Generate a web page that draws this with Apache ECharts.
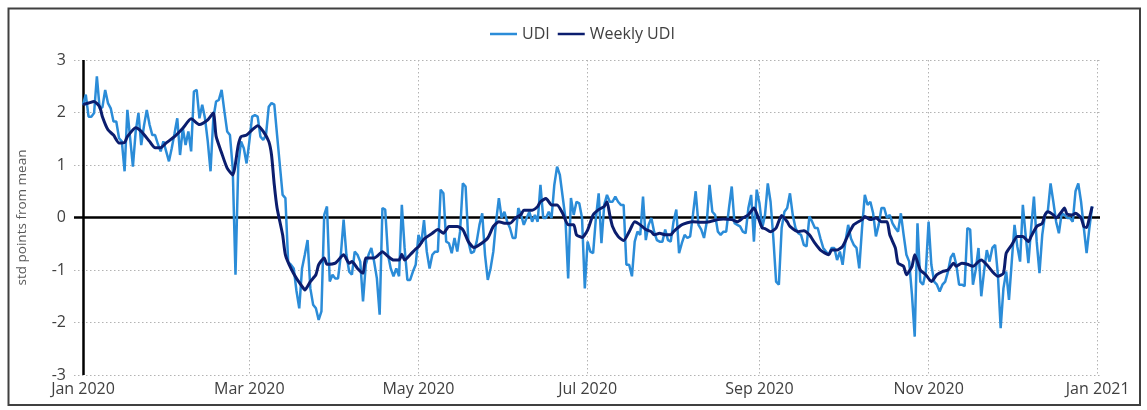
<!DOCTYPE html>
<html>
<head>
<meta charset="utf-8">
<script src="https://cdn.jsdelivr.net/npm/echarts@6/dist/echarts.min.js"></script>
<style>
html,body{margin:0;padding:0;background:#fff;}
#chart{width:1147px;height:410px;}
</style>
</head>
<body>
<div id="chart"></div>
<script>
// ---- data ----
const udiStartDate = [2020, 0, 1]; // daily series starts 1 Jan 2020
const udiValues = [
  2.15, 2.34, 1.92, 1.92, 1.99, 2.69, 2.08, 2.10, 2.43, 2.18,
  2.08, 1.83, 1.83, 1.51, 1.45, 0.88, 2.05, 1.51, 0.97, 1.64,
  1.99, 1.38, 1.75, 2.05, 1.77, 1.57, 1.57, 1.40, 1.26, 1.45,
  1.26, 1.07, 1.32, 1.60, 1.89, 1.19, 1.70, 1.38, 1.64, 1.26,
  2.40, 2.43, 1.89, 2.15, 1.89, 1.45, 0.88, 1.89, 2.21, 2.24,
  2.43, 2.02, 1.64, 1.57, 0.94, -1.09, 1.00, 1.45, 1.32, 1.03,
  1.45, 1.92, 1.95, 1.92, 1.54, 1.48, 1.57, 2.11, 2.18, 2.15,
  1.57, 1.00, 0.43, 0.37, -0.85, -0.90, -0.97, -1.40, -1.73, -0.97,
  -0.71, -0.43, -1.35, -1.66, -1.73, -1.95, -1.79, 0.05, 0.21, -1.22,
  -1.09, -1.16, -1.16, -0.71, -0.04, -0.71, -1.03, -1.09, -0.65, -0.71,
  -0.84, -1.60, -0.90, -0.71, -0.58, -0.84, -1.16, -1.85, 0.18, 0.15,
  -0.71, -0.97, -1.12, -0.97, -1.12, 0.24, -0.58, -1.19, -1.19, -1.03,
  -0.90, -0.33, -0.50, -0.05, -0.65, -0.97, -0.71, -0.65, -0.65, 0.53,
  0.46, -0.46, -0.49, -0.68, -0.39, -0.65, -0.27, 0.65, 0.59, -0.46,
  -0.68, -0.65, -0.46, -0.14, 0.08, -0.71, -1.19, -0.97, -0.65, -0.08,
  0.37, -0.01, 0.11, -0.08, -0.20, -0.39, -0.39, 0.18, 0.05, -0.14,
  -0.01, 0.11, -0.08, 0.05, -0.08, 0.62, -0.01, -0.01, 0.11, -0.01,
  0.62, 0.97, 0.81, 0.40, -0.01, -1.16, 0.37, 0.05, 0.30, 0.27,
  -0.01, -1.35, -0.46, -0.65, -0.68, -0.01, 0.46, -0.49, 0.24, 0.43,
  0.30, 0.30, 0.40, 0.30, 0.24, 0.24, -0.90, -0.90, -1.12, -0.46,
  -0.27, -0.33, 0.40, -0.43, -0.14, -0.01, -0.27, -0.43, -0.46, -0.46,
  -0.23, -0.43, -0.46, -0.08, 0.15, -0.68, -0.49, -0.33, -0.39, -0.36,
  0.05, 0.50, -0.14, -0.23, -0.39, -0.08, 0.62, 0.11, 0.05, -0.27,
  -0.33, -0.27, -0.27, 0.18, 0.59, -0.11, -0.14, -0.17, -0.27, -0.30,
  0.18, 0.43, -0.46, 0.53, 0.27, -0.20, 0.05, 0.65, 0.30, -0.39,
  -1.22, -1.28, -0.20, 0.11, 0.18, 0.46, 0.05, -0.20, -0.30, -0.33,
  -0.52, -0.55, 0.02, -0.08, -0.20, -0.20, -0.40, -0.58, -0.65, -0.71,
  -0.58, -0.58, -0.81, -0.65, -0.90, -0.46, -0.14, -0.40, -0.52, -0.58,
  -0.97, -0.20, 0.43, 0.24, 0.30, 0.08, -0.36, -0.14, 0.18, 0.18,
  -0.01, 0.05, -0.11, -0.20, -0.27, 0.08, -0.33, -0.71, -0.84, -1.47,
  -2.27, -0.11, -1.22, -1.28, -1.03, -0.08, -0.90, -1.22, -1.28, -1.41,
  -1.28, -1.22, -1.03, -0.76, -0.68, -0.90, -1.28, -1.28, -1.31, -0.20,
  -0.23, -1.28, -1.00, -0.58, -1.50, -1.03, -0.62, -0.84, -0.58, -0.52,
  -1.09, -2.11, -1.35, -1.03, -1.57, -0.84, -0.14, -0.55, -0.84, 0.24,
  -0.33, -0.87, -0.20, 0.40, -0.46, -1.06, -0.33, 0.05, 0.11, 0.65,
  0.30, -0.08, -0.30, 0.08, 0.05, -0.01, -0.01, -0.08, 0.50, 0.65,
  0.30, -0.20, -0.68, -0.20, 0.21
];
// weekly series: day offset from 1 Jan 2020 and value
const weeklyDays = [
  0, 2, 4, 6, 7, 9, 11, 13, 15, 16, 19, 21, 24, 26, 28, 30, 33, 36, 39, 42,
  45, 47, 48, 50, 52, 54, 56, 57, 59, 61, 63, 65, 67, 68, 69, 70, 72, 73, 75, 77,
  79, 80, 82, 84, 85, 87, 88, 91, 94, 96, 97, 99, 101, 102, 105, 106, 108, 110, 112, 114,
  115, 116, 118, 120, 121, 123, 126, 128, 130, 132, 135, 137, 139, 141, 143, 146, 148, 150, 152, 154,
  156, 158, 159, 162, 164, 165, 167, 169, 171, 173, 175, 177, 178, 180, 182, 184, 186, 188, 189, 190,
  191, 193, 195, 197, 199, 201, 203, 205, 206, 208, 210, 212, 213, 216, 218, 220, 223, 226, 229, 231,
  234, 236, 238, 240, 242, 243, 245, 246, 248, 250, 252, 254, 255, 258, 260, 262, 264, 266, 269, 270,
  272, 274, 276, 278, 281, 282, 284, 286, 288, 290, 291, 293, 294, 296, 297, 299, 300, 302, 304, 306,
  308, 310, 312, 314, 315, 317, 319, 321, 323, 324, 326, 328, 330, 332, 333, 335, 337, 339, 341, 342,
  344, 346, 347, 348, 350, 351, 353, 354, 355, 357, 358, 360, 361, 362, 363, 364
];
const weeklyValues = [
  2.15, 2.18, 2.21, 2.11, 1.92, 1.67, 1.57, 1.42, 1.43, 1.54, 1.71, 1.64, 1.45, 1.33, 1.33, 1.42, 1.54, 1.70, 1.88, 1.77,
  1.86, 1.99, 1.55, 1.23, 0.94, 0.81, 1.38, 1.54, 1.57, 1.67, 1.75, 1.64, 1.45, 1.19, 0.62, 0.18, -0.33, -0.71, -0.97, -1.16,
  -1.31, -1.38, -1.22, -1.09, -0.90, -0.77, -0.89, -0.87, -0.71, -0.87, -0.84, -0.97, -1.06, -0.77, -0.77, -0.74, -0.65, -0.74, -0.81, -0.81,
  -0.70, -0.81, -0.71, -0.60, -0.56, -0.41, -0.30, -0.23, -0.30, -0.17, -0.17, -0.23, -0.46, -0.57, -0.52, -0.39, -0.17, -0.08, -0.11, -0.11,
  -0.01, 0.06, 0.14, 0.14, 0.21, 0.30, 0.36, 0.24, 0.24, 0.08, -0.14, -0.14, -0.33, -0.38, -0.24, 0.05, 0.15, 0.21, 0.30, 0.05,
  -0.17, -0.36, -0.44, -0.27, -0.08, -0.14, -0.23, -0.27, -0.33, -0.30, -0.33, -0.33, -0.27, -0.14, -0.10, -0.08, -0.09, -0.08, -0.04, -0.03,
  -0.04, -0.08, -0.01, 0.05, 0.18, 0.08, -0.20, -0.21, -0.27, -0.20, 0.04, -0.08, -0.17, -0.27, -0.25, -0.33, -0.49, -0.62, -0.71, -0.62,
  -0.62, -0.55, -0.33, -0.14, -0.04, 0.02, -0.04, -0.01, -0.08, -0.08, -0.33, -0.58, -0.87, -0.93, -1.09, -0.93, -0.71, -1.00, -1.09, -1.22,
  -1.09, -1.03, -1.00, -0.87, -0.93, -0.87, -0.89, -0.93, -0.84, -0.81, -0.90, -1.03, -1.12, -1.06, -0.68, -0.52, -0.36, -0.36, -0.46, -0.36,
  -0.17, -0.11, 0.05, 0.11, 0.05, -0.01, 0.11, 0.18, 0.06, 0.05, 0.08, -0.01, -0.17, -0.19, -0.01, 0.21
];
const tickDates = [[2020, 0, 1], [2020, 2, 1], [2020, 4, 1], [2020, 6, 1], [2020, 8, 1], [2020, 10, 1], [2021, 0, 1]];
const tickLabels = ['Jan 2020', 'Mar 2020', 'May 2020', 'Jul 2020', 'Sep 2020', 'Nov 2020', 'Jan 2021'];
const yTicks = { min: -3, max: 3, step: 1 };
const seriesNames = ['UDI', 'Weekly UDI'];
const axisTitle = 'std points from mean';

// ---- build (x = days since the start date) ----
const DAY = 86400000;
const t0 = Date.UTC(udiStartDate[0], udiStartDate[1], udiStartDate[2]);
const tickDays = tickDates.map(d => Math.round((Date.UTC(d[0], d[1], d[2]) - t0) / DAY));
const udiData = udiValues.map((v, i) => [i, v]);
const weeklyData = weeklyDays.map((d, i) => [d, weeklyValues[i]]);

const FONT = 'Open Sans';
const UDI_COLOR = '#2b8cd8';
const WEEKLY_COLOR = '#0b1d6e';
const GRID_LINE = { color: '#b3b3b3', type: [1.5, 2.5], width: 1 };

const chart = echarts.init(document.getElementById('chart'), null, { renderer: 'canvas' });
chart.setOption({
  animation: false,
  backgroundColor: '#ffffff',
  textStyle: { fontFamily: FONT },
  graphic: [{
    type: 'rect',
    shape: { x: 8.5, y: 8.5, width: 1131.5, height: 396.5 },
    style: { fill: 'none', stroke: '#404040', lineWidth: 2 },
    silent: true, z: 100
  }],
  legend: {
    left: 485, top: 21,
    icon: 'rect',
    itemWidth: 27, itemHeight: 2.5, itemGap: 8,
    textStyle: { fontFamily: FONT, fontSize: 16, color: '#404040' },
    data: seriesNames
  },
  grid: { left: 74, right: 47, top: 60, bottom: 35, containLabel: false },
  xAxis: {
    type: 'value',
    min: -3.25,
    max: 366.83,
    axisLine: { show: false },
    axisTick: { show: false, customValues: tickDays },
    axisLabel: {
      customValues: tickDays,
      fontFamily: FONT, fontSize: 16, color: '#404040', margin: 6,
      formatter: function (val) {
        const i = tickDays.indexOf(Math.round(val));
        return i >= 0 ? tickLabels[i] : '';
      }
    },
    splitLine: { show: true, lineStyle: GRID_LINE }
  },
  yAxis: {
    type: 'value',
    min: yTicks.min, max: yTicks.max, interval: yTicks.step,
    name: axisTitle,
    nameLocation: 'middle',
    nameGap: 45,
    nameTextStyle: { fontFamily: FONT, fontSize: 13.5, color: '#595959' },
    axisLine: { show: false },
    axisTick: { show: false },
    axisLabel: { fontFamily: FONT, fontSize: 16, color: '#404040', margin: 8 },
    splitLine: { show: true, lineStyle: GRID_LINE }
  },
  series: [
    {
      name: seriesNames[0],
      type: 'line',
      data: udiData,
      symbol: 'none',
      showSymbol: false,
      lineStyle: { color: UDI_COLOR, width: 2.5 },
      itemStyle: { color: UDI_COLOR },
      z: 2,
      markLine: {
        silent: true,
        symbol: 'none',
        label: { show: false },
        z: 1,
        data: [
          { yAxis: 0, lineStyle: { color: '#000000', width: 2.5, type: 'solid' } },
          { xAxis: tickDays[0], lineStyle: { color: '#000000', width: 2.5, type: 'solid' } }
        ]
      }
    },
    {
      name: seriesNames[1],
      type: 'line',
      data: weeklyData,
      symbol: 'none',
      showSymbol: false,
      smooth: 0.2,
      lineStyle: { color: WEEKLY_COLOR, width: 3 },
      itemStyle: { color: WEEKLY_COLOR },
      z: 3
    }
  ]
});
</script>
</body>
</html>
